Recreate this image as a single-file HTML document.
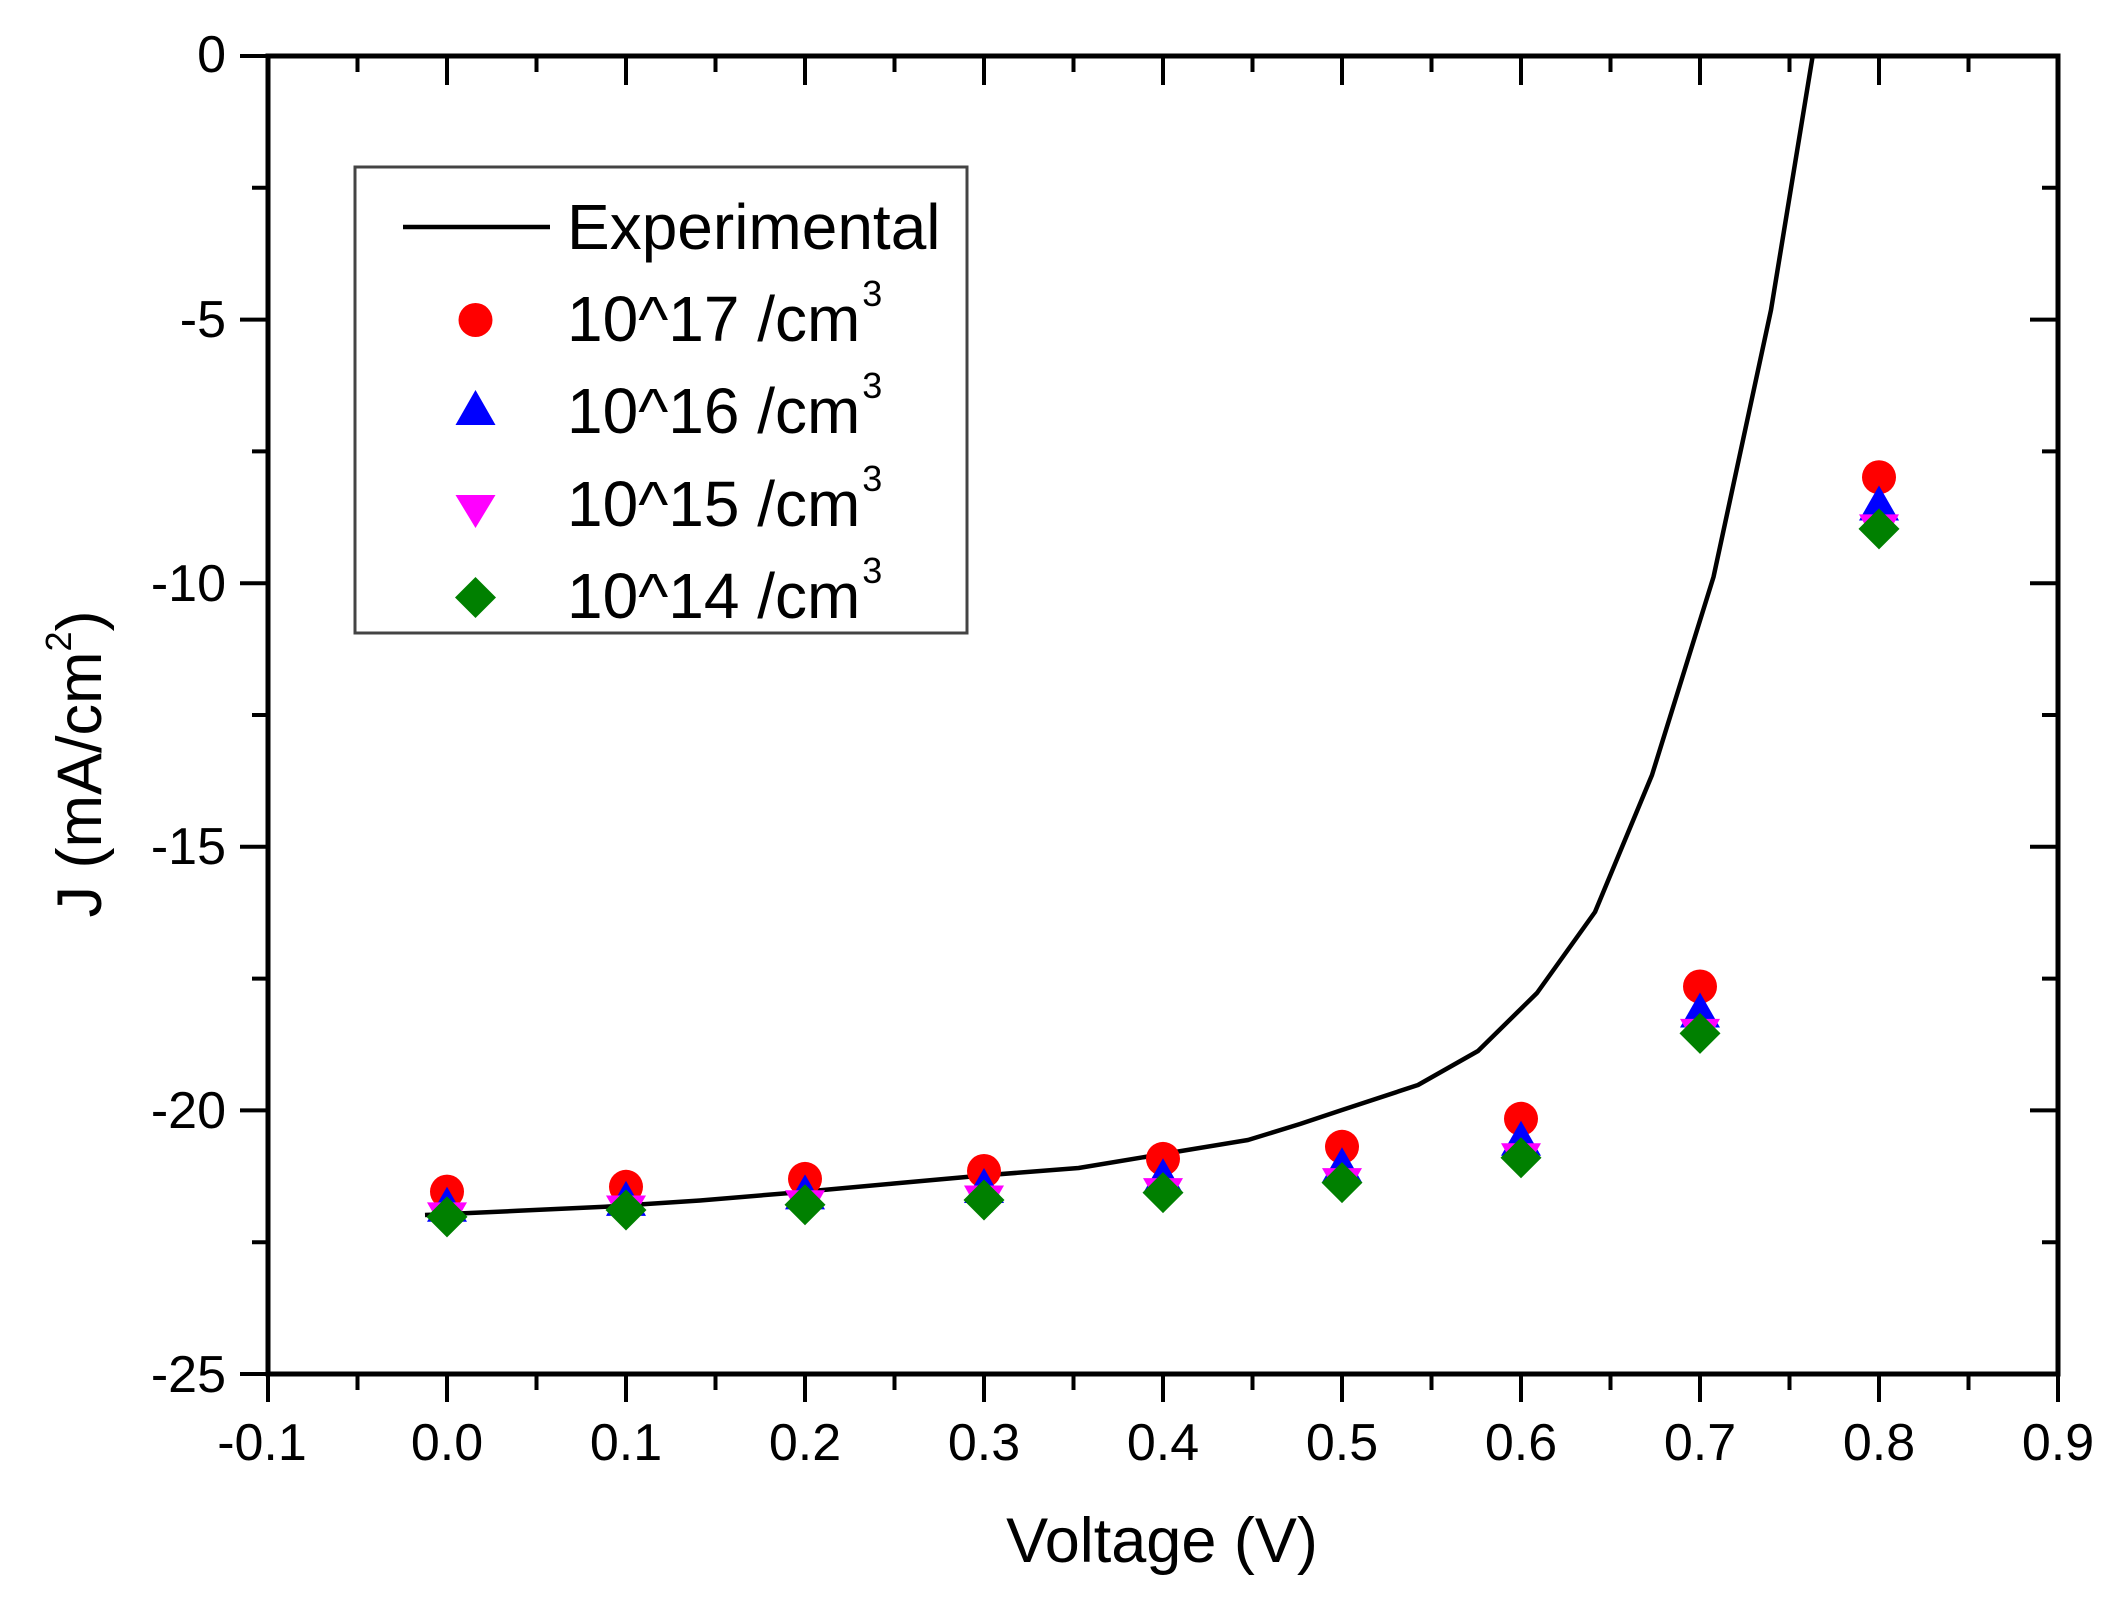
<!DOCTYPE html>
<html>
<head>
<meta charset="utf-8">
<style>
html,body{margin:0;padding:0;background:#fff;}
svg{display:block;}
text{font-family:"Liberation Sans",Arial,sans-serif;fill:#000;}
</style>
</head>
<body>
<svg width="2124" height="1605" viewBox="0 0 2124 1605" xmlns="http://www.w3.org/2000/svg">
<defs>
  <clipPath id="plot"><rect x="268" y="56" width="1790" height="1318"/></clipPath>
  <symbol id="circ" overflow="visible"><circle cx="0" cy="0" r="17" fill="#ff0000"/></symbol>
  <symbol id="tup" overflow="visible"><polygon points="0,-17.5 -20,17.5 20,17.5" fill="#0000ff"/></symbol>
  <symbol id="tdn" overflow="visible"><polygon points="-20,-17.5 20,-17.5 0,17.5" fill="#ff00ff"/></symbol>
  <symbol id="dia" overflow="visible"><polygon points="0,-20.5 20.5,0 0,20.5 -20.5,0" fill="#008000"/></symbol>
</defs>

<!-- ticks -->
<g stroke="#000" stroke-width="4" fill="none">
  <path d="M268,1374V1402M447,1374V1402M626,1374V1402M805,1374V1402M984,1374V1402M1163,1374V1402M1342,1374V1402M1521,1374V1402M1700,1374V1402M1879,1374V1402M2058,1374V1402"/>
  <path d="M357.5,1374V1390M536.5,1374V1390M715.5,1374V1390M894.5,1374V1390M1073.5,1374V1390M1252.5,1374V1390M1431.5,1374V1390M1610.5,1374V1390M1789.5,1374V1390M1968.5,1374V1390"/>
  <path d="M447,56V85M626,56V85M805,56V85M984,56V85M1163,56V85M1342,56V85M1521,56V85M1700,56V85M1879,56V85"/>
  <path d="M357.5,56V72M536.5,56V72M715.5,56V72M894.5,56V72M1073.5,56V72M1252.5,56V72M1431.5,56V72M1610.5,56V72M1789.5,56V72M1968.5,56V72"/>
  <path d="M240,56H268M240,319.6H268M240,583.2H268M240,846.8H268M240,1110.4H268M240,1374H268"/>
  <path d="M252,187.8H268M252,451.4H268M252,715H268M252,978.6H268M252,1242.2H268"/>
  <path d="M2030,319.6H2058M2030,583.2H2058M2030,846.8H2058M2030,1110.4H2058"/>
  <path d="M2042,187.8H2058M2042,451.4H2058M2042,715H2058M2042,978.6H2058M2042,1242.2H2058"/>
</g>

<!-- axes frame -->
<rect x="268" y="56" width="1790" height="1318" fill="none" stroke="#000" stroke-width="5"/>

<!-- experimental curve -->
<polyline clip-path="url(#plot)" fill="none" stroke="#000" stroke-width="4.5" stroke-linejoin="round"
  points="425,1215 518,1210.8 605,1206.7 700,1200.5 793,1192.7 894,1183.5 980,1175.7 1078.6,1168 1163,1154 1248,1140 1300,1124 1342,1110 1418,1085 1478,1051 1537,993 1595,912 1652,775 1713.5,577 1771,310 1813,54 1815,44"/>

<!-- red circles -->
<g>
  <use href="#circ" x="447" y="1191.6"/>
  <use href="#circ" x="626" y="1186.8"/>
  <use href="#circ" x="805" y="1178.9"/>
  <use href="#circ" x="984" y="1171"/>
  <use href="#circ" x="1163" y="1158.9"/>
  <use href="#circ" x="1342" y="1146.8"/>
  <use href="#circ" x="1521" y="1118.8"/>
  <use href="#circ" x="1700" y="986.5"/>
  <use href="#circ" x="1879" y="477.2"/>
</g>
<!-- blue up triangles -->
<g>
  <use href="#tup" x="447" y="1204.3"/>
  <use href="#tup" x="626" y="1198.4"/>
  <use href="#tup" x="805" y="1191.9"/>
  <use href="#tup" x="984" y="1185.5"/>
  <use href="#tup" x="1163" y="1175.8"/>
  <use href="#tup" x="1342" y="1164.7"/>
  <use href="#tup" x="1521" y="1138.3"/>
  <use href="#tup" x="1700" y="1010"/>
  <use href="#tup" x="1879" y="503"/>
</g>
<!-- magenta down triangles -->
<g>
  <use href="#tdn" x="447" y="1219.9"/>
  <use href="#tdn" x="626" y="1213"/>
  <use href="#tdn" x="805" y="1207.8"/>
  <use href="#tdn" x="984" y="1203"/>
  <use href="#tdn" x="1163" y="1195.6"/>
  <use href="#tdn" x="1342" y="1185.6"/>
  <use href="#tdn" x="1521" y="1160.8"/>
  <use href="#tdn" x="1700" y="1036.4"/>
  <use href="#tdn" x="1879" y="531.9"/>
</g>
<!-- green diamonds -->
<g>
  <use href="#dia" x="447" y="1216.9"/>
  <use href="#dia" x="626" y="1210"/>
  <use href="#dia" x="805" y="1204.8"/>
  <use href="#dia" x="984" y="1200"/>
  <use href="#dia" x="1163" y="1192.6"/>
  <use href="#dia" x="1342" y="1182.6"/>
  <use href="#dia" x="1521" y="1157.8"/>
  <use href="#dia" x="1700" y="1033.4"/>
  <use href="#dia" x="1879" y="528.9"/>
</g>

<!-- y tick labels -->
<g font-size="52" text-anchor="end">
  <text x="226" y="72">0</text>
  <text x="226" y="337">-5</text>
  <text x="226" y="601">-10</text>
  <text x="226" y="864">-15</text>
  <text x="226" y="1128">-20</text>
  <text x="226" y="1392">-25</text>
</g>

<!-- x tick labels -->
<g font-size="52" text-anchor="middle">
  <text x="262" y="1460">-0.1</text>
  <text x="447" y="1460">0.0</text>
  <text x="626" y="1460">0.1</text>
  <text x="805" y="1460">0.2</text>
  <text x="984" y="1460">0.3</text>
  <text x="1163" y="1460">0.4</text>
  <text x="1342" y="1460">0.5</text>
  <text x="1521" y="1460">0.6</text>
  <text x="1700" y="1460">0.7</text>
  <text x="1879" y="1460">0.8</text>
  <text x="2058" y="1460">0.9</text>
</g>

<!-- axis titles -->
<text x="1162" y="1562" font-size="63" text-anchor="middle">Voltage (V)</text>
<text transform="translate(101,764) rotate(-90)" font-size="63" text-anchor="middle">J (mA/cm<tspan font-size="36" dy="-30">2</tspan><tspan dy="30">)</tspan></text>

<!-- legend -->
<rect x="355" y="167" width="612" height="466" fill="#fff" stroke="#444" stroke-width="3"/>
<line x1="403" y1="227" x2="550" y2="227" stroke="#000" stroke-width="4.5"/>
<circle cx="475.5" cy="320" r="17" fill="#ff0000"/>
<polygon points="475.5,390 455.5,425 495.5,425" fill="#0000ff"/>
<polygon points="455.5,495 495.5,495 475.5,528" fill="#ff00ff"/>
<polygon points="475.5,577 496,597.5 475.5,618 455,597.5" fill="#008000"/>
<g font-size="64">
  <text x="567" y="249">Experimental</text>
  <text x="567" y="341">10^17 /cm<tspan font-size="36" dy="-35" dx="2">3</tspan></text>
  <text x="567" y="433">10^16 /cm<tspan font-size="36" dy="-35" dx="2">3</tspan></text>
  <text x="567" y="526">10^15 /cm<tspan font-size="36" dy="-35" dx="2">3</tspan></text>
  <text x="567" y="618">10^14 /cm<tspan font-size="36" dy="-35" dx="2">3</tspan></text>
</g>
</svg>
</body>
</html>
